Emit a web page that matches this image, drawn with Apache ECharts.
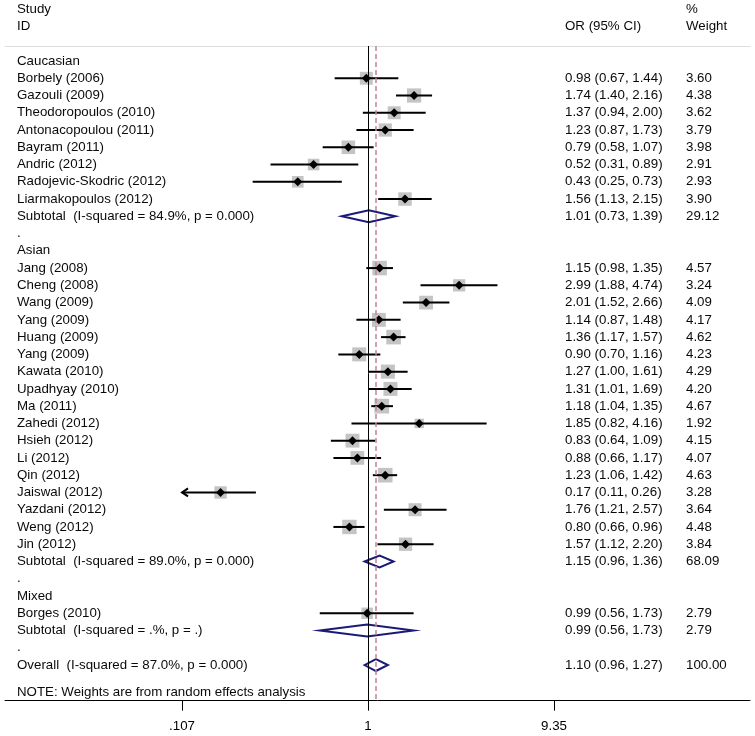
<!DOCTYPE html>
<html><head><meta charset="utf-8">
<script src="https://cdn.jsdelivr.net/npm/echarts@6/dist/echarts.min.js"></script>
<style>html,body{margin:0;padding:0;background:#fff}#c{width:755px;height:736px}</style>
</head><body><div id="c"></div>
<script>
// ---- data ----
const rowLabels = [
  'Caucasian','Borbely (2006)','Gazouli (2009)','Theodoropoulos (2010)','Antonacopoulou (2011)',
  'Bayram (2011)','Andric (2012)','Radojevic-Skodric (2012)','Liarmakopoulos (2012)',
  'Subtotal  (I-squared = 84.9%, p = 0.000)','.',
  'Asian','Jang (2008)','Cheng (2008)','Wang (2009)','Yang (2009)','Huang (2009)','Yang (2009)',
  'Kawata (2010)','Upadhyay (2010)','Ma (2011)','Zahedi (2012)','Hsieh (2012)','Li (2012)',
  'Qin (2012)','Jaiswal (2012)','Yazdani (2012)','Weng (2012)','Jin (2012)',
  'Subtotal  (I-squared = 89.0%, p = 0.000)','.',
  'Mixed','Borges (2010)','Subtotal  (I-squared = .%, p = .)','.',
  'Overall  (I-squared = 87.0%, p = 0.000)'
];
const rowKinds = [
  'group','study','study','study','study','study','study','study','study','subtotal','blank',
  'group','study','study','study','study','study','study','study','study','study','study','study','study',
  'study','study','study','study','study','subtotal','blank',
  'group','study','subtotal','blank','overall'
];
const orValues = [
  null,0.98,1.74,1.37,1.23,0.79,0.52,0.43,1.56,1.01,null,
  null,1.15,2.99,2.01,1.14,1.36,0.90,1.27,1.31,1.18,1.85,0.83,0.88,1.23,0.17,1.76,0.80,1.57,1.15,null,
  null,0.99,0.99,null,1.10
];
const ciLower = [
  null,0.67,1.40,0.94,0.87,0.58,0.31,0.25,1.13,0.73,null,
  null,0.98,1.88,1.52,0.87,1.17,0.70,1.00,1.01,1.04,0.82,0.64,0.66,1.06,0.106,1.21,0.66,1.12,0.96,null,
  null,0.56,0.56,null,0.96
];
const ciUpper = [
  null,1.44,2.16,2.00,1.73,1.07,0.89,0.73,2.15,1.39,null,
  null,1.35,4.74,2.66,1.48,1.57,1.16,1.61,1.69,1.35,4.16,1.09,1.17,1.42,0.26,2.57,0.96,2.20,1.36,null,
  null,1.73,1.73,null,1.27
];
const weights = [
  null,3.60,4.38,3.62,3.79,3.98,2.91,2.93,3.90,29.12,null,
  null,4.57,3.24,4.09,4.17,4.62,4.23,4.29,4.20,4.67,1.92,4.15,4.07,4.63,3.28,3.64,4.48,3.84,68.09,null,
  null,2.79,2.79,null,100.00
];
const tickValues = [0.107, 1, 9.35];
const tickLabels = ['.107', '1', '9.35'];
const headerStudy = ['Study', 'ID'];
const headerOR = 'OR (95% CI)';
const headerWeight = ['%', 'Weight'];
const noteText = 'NOTE: Weights are from random effects analysis';

// ---- layout constants ----
const FONT = '"Liberation Sans", Arial, sans-serif';
const FS = 13.3;
const colX = [17, 565, 686];
const rowMin = 0.1308, rowMax = 38.068;
const noteRow = 37.56;

// forest marks
const forestData = [];
rowKinds.forEach((k, i) => {
  if (k === 'study' || k === 'subtotal' || k === 'overall') {
    forestData.push([orValues[i], ciLower[i], ciUpper[i], i + 1, weights[i], k === 'study' ? 0 : 1]);
  }
});
const overallOR = orValues[rowKinds.indexOf('overall')];

// text items: [col, row, text]
const textItems = [];
textItems.push([0, -2, headerStudy[0]], [0, -1, headerStudy[1]]);
textItems.push([1, -1, headerOR]);
textItems.push([2, -2, headerWeight[0]], [2, -1, headerWeight[1]]);
rowLabels.forEach((lab, i) => {
  textItems.push([0, i + 1, lab]);
  if (orValues[i] != null) {
    textItems.push([1, i + 1, orValues[i].toFixed(2) + ' (' + ciLower[i].toFixed(2) + ', ' + ciUpper[i].toFixed(2) + ')']);
    textItems.push([2, i + 1, weights[i].toFixed(2)]);
  }
});
textItems.push([0, noteRow, noteText]);

const chart = echarts.init(document.getElementById('c'));
const xMin = 0.01275, xMax = 98.56;

chart.setOption({
  animation: false,
  backgroundColor: '#fff',
  grid: { left: 5, right: 5, top: 46, bottom: 35.3, containLabel: false, outerBoundsMode: 'none' },
  xAxis: [{
    type: 'log', logBase: 10, min: xMin, max: xMax, position: 'bottom',
    splitLine: { show: false },
    axisLine: { show: true, onZero: false, lineStyle: { color: '#000', width: 1 } },
    axisTick: { show: true, length: 10, customValues: tickValues, lineStyle: { color: '#000', width: 1 } },
    axisLabel: {
      show: true, customValues: tickValues, margin: 19.5, color: '#000',
      fontSize: FS, fontFamily: FONT,
      formatter: v => { const j = tickValues.findIndex(t => Math.abs(t - v) < 1e-9); return j >= 0 ? tickLabels[j] : ''; }
    }
  }, {
    type: 'log', logBase: 10, min: xMin, max: xMax, position: 'top',
    splitLine: { show: false },
    axisLine: { show: true, onZero: false, lineStyle: { color: '#dedede', width: 1 } },
    axisTick: { show: false }, axisLabel: { show: false }
  }],
  yAxis: { type: 'value', min: rowMin, max: rowMax, inverse: true, show: false, splitLine: { show: false } },
  series: [{
    type: 'custom', name: 'text', z: 1, clip: false,
    data: textItems,
    renderItem: (params, api) => {
      const it = textItems[params.dataIndex];
      const y = api.coord([1, it[1]])[1];
      return {
        type: 'text', x: colX[it[0]], y: y,
        style: { text: it[2], fontSize: FS, fontFamily: FONT, fill: '#0a0a0a', align: 'left', verticalAlign: 'middle' }
      };
    },
    markLine: {
      silent: true, symbol: ['none', 'none'], label: { show: false },
      data: [
        { xAxis: 1, lineStyle: { color: '#000', width: 1, type: 'solid' } },
        { xAxis: overallOR, lineStyle: { color: '#c08595', width: 1.5, type: [5, 3] } }
      ]
    }
  }, {
    type: 'custom', name: 'forest', z: 3, clip: false,
    data: forestData,
    renderItem: (params, api) => {
      const mid = api.value(0), lo = api.value(1), hi = api.value(2), row = api.value(3), w = api.value(4), kind = api.value(5);
      const cMin = tickValues[0], cMax = tickValues[tickValues.length - 1];
      const pm = api.coord([mid, row]);
      const y = pm[1];
      const pl = api.coord([Math.max(lo, cMin), row]);
      const ph = api.coord([Math.min(hi, cMax), row]);
      const children = [];
      if (kind === 0) {
        const s = 6.8 * Math.sqrt(w);
        children.push({ type: 'rect', shape: { x: pm[0] - s / 2, y: y - s / 2, width: s, height: s }, style: { fill: '#c4c4c4' } });
        children.push({ type: 'line', shape: { x1: pl[0], y1: y, x2: ph[0], y2: y }, style: { stroke: '#000', lineWidth: 2 } });
        if (lo < cMin) {
          children.push({ type: 'polyline', shape: { points: [[pl[0] + 6, y - 4], [pl[0], y], [pl[0] + 6, y + 4]] }, style: { stroke: '#000', lineWidth: 2, fill: null } });
        }
        children.push({ type: 'polygon', shape: { points: [[pm[0] - 4.5, y], [pm[0], y - 4.5], [pm[0] + 4.5, y], [pm[0], y + 4.5]] }, style: { fill: '#000' } });
      } else {
        const h = 6;
        children.push({ type: 'polygon', shape: { points: [[pl[0], y], [pm[0], y - h], [ph[0], y], [pm[0], y + h]] }, style: { fill: 'none', stroke: '#1a1a78', lineWidth: 2 } });
      }
      return { type: 'group', children };
    }
  }]
});
</script>
</body></html>
